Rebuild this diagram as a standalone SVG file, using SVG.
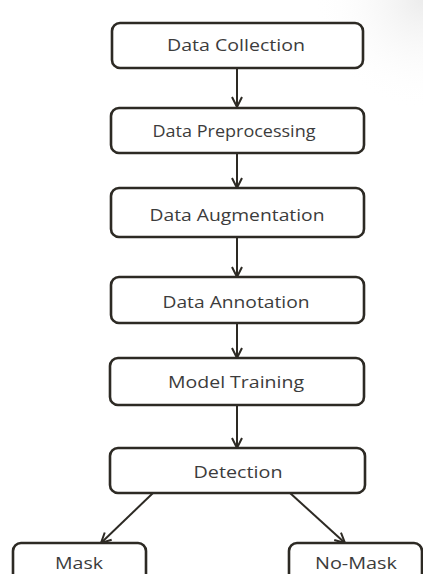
<svg xmlns="http://www.w3.org/2000/svg" width="423" height="574" viewBox="0 0 423 574">
  <defs>
    <marker id="arrow" viewBox="0 0 12 12" refX="11" refY="6" markerWidth="12" markerHeight="12" markerUnits="userSpaceOnUse" orient="auto">
      <path d="M1,1 L11,6 L1,11" fill="none" stroke="#2d2a24" stroke-width="2"/>
    </marker>
    <radialGradient id="corner" cx="423" cy="0" r="110" gradientUnits="userSpaceOnUse">
      <stop offset="0" stop-color="#ececec"/>
      <stop offset="1" stop-color="#ffffff" stop-opacity="0"/>
    </radialGradient>
  </defs>
  <style>
    .box { fill: #ffffff; stroke: #2d2a24; stroke-width: 2.6; }
    .label { font-family: "Open Sans", "Noto Sans", sans-serif; font-size: 17px; fill: #3c3c3c; text-anchor: middle; }
    .link { stroke: #2d2a24; stroke-width: 2; fill: none; marker-end: url(#arrow); }
  </style>
  <rect width="423" height="574" fill="#ffffff"/>
  <rect x="300" y="0" width="123" height="120" fill="url(#corner)"/>

  <g id="connectors">
    <line class="link" x1="237" y1="68" x2="237" y2="107"/>
    <line class="link" x1="237" y1="153" x2="237" y2="188"/>
    <line class="link" x1="237" y1="237" x2="237" y2="277"/>
    <line class="link" x1="237" y1="323" x2="237" y2="358"/>
    <line class="link" x1="237" y1="405" x2="237" y2="448"/>
    <line class="link" x1="153" y1="493" x2="101" y2="543"/>
    <line class="link" x1="290" y1="493" x2="345" y2="543"/>
  </g>

  <g id="data-collection">
    <rect class="box" x="112" y="23" width="251" height="45" rx="8"/>
    <text class="label" x="236" y="51" textLength="138" lengthAdjust="spacingAndGlyphs">Data Collection</text>
  </g>
  <g id="data-preprocessing">
    <rect class="box" x="111" y="108" width="253" height="45" rx="8"/>
    <text class="label" x="234" y="137" textLength="163" lengthAdjust="spacingAndGlyphs">Data Preprocessing</text>
  </g>
  <g id="data-augmentation">
    <rect class="box" x="111" y="188" width="253" height="49" rx="8"/>
    <text class="label" x="237" y="221" textLength="175" lengthAdjust="spacingAndGlyphs">Data Augmentation</text>
  </g>
  <g id="data-annotation">
    <rect class="box" x="111" y="277" width="253" height="46" rx="8"/>
    <text class="label" x="236" y="308" textLength="147" lengthAdjust="spacingAndGlyphs">Data Annotation</text>
  </g>
  <g id="model-training">
    <rect class="box" x="110" y="358" width="254" height="47" rx="8"/>
    <text class="label" x="236" y="388" textLength="136" lengthAdjust="spacingAndGlyphs">Model Training</text>
  </g>
  <g id="detection">
    <rect class="box" x="110" y="448" width="255" height="45" rx="8"/>
    <text class="label" x="238" y="478" textLength="89" lengthAdjust="spacingAndGlyphs">Detection</text>
  </g>
  <g id="mask">
    <rect class="box" x="13" y="543" width="133" height="45" rx="8"/>
    <text class="label" x="79" y="569" textLength="48" lengthAdjust="spacingAndGlyphs">Mask</text>
  </g>
  <g id="no-mask">
    <rect class="box" x="289" y="543" width="133" height="45" rx="8"/>
    <text class="label" x="356" y="569" textLength="82" lengthAdjust="spacingAndGlyphs">No-Mask</text>
  </g>
</svg>
